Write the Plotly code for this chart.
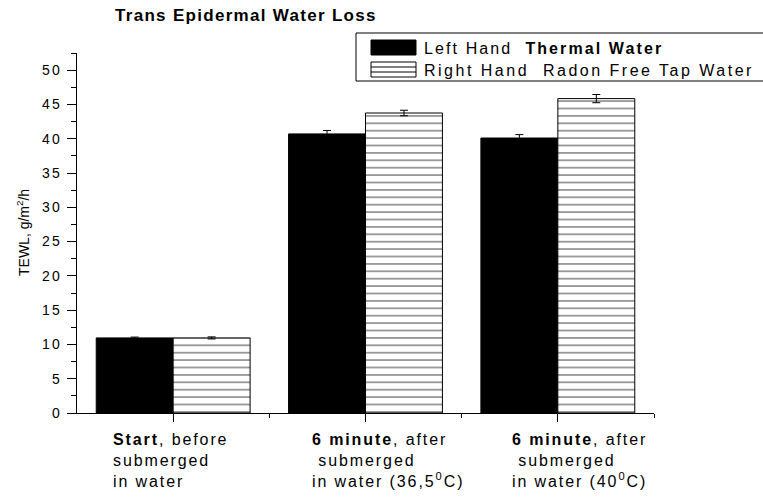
import plotly.graph_objects as go

# ---- data ----
categories = [0.5, 1.5, 2.5]
category_labels = [
    "<b>Start</b>, before<br>submerged<br>in water",
    "<b>6 minute</b>, after<br>&nbsp;submerged<br>in water (36,5<sup>0</sup>C)",
    "<b>6 minute</b>, after<br>&nbsp;submerged<br>in water (40<sup>0</sup>C)",
]
left_values = [10.95, 40.7, 40.1]
left_errors = [0.12, 0.5, 0.5]
right_values = [10.95, 43.75, 45.85]
right_errors = [0.15, 0.4, 0.6]
series_names = ["Left Hand&nbsp; <b>Thermal Water</b>", "Right Hand&nbsp; Radon Free Tap Water"]
y_ticks = [0, 5, 10, 15, 20, 25, 30, 35, 40, 45, 50]
y_tick_labels = [str(v) for v in y_ticks]
title_text = "<b>Trans Epidermal Water Loss</b>"
y_title = "TEWL, g/m<sup>2</sup>/h"

FONT = "Liberation Sans, Arial, sans-serif"
W, H = 763, 497
L, R, T, B = 77, 654, 53, 413  # plot area in pixels


def sp(text, ls):
    return f'<span style="letter-spacing:{ls}px">{text}</span>'


def px(xp):
    return (xp - L) / (R - L)


def py(yp):
    return (B - yp) / (B - T)


fig = go.Figure()
fig.add_trace(go.Bar(
    x=categories, y=left_values, width=0.4, offset=-0.4,
    marker=dict(color="black", line=dict(color="black", width=1)),
    error_y=dict(type="data", array=left_errors, color="black", thickness=1, width=4),
    showlegend=False,
))
fig.add_trace(go.Bar(
    x=categories, y=right_values, width=0.4, offset=0.0,
    marker=dict(color="white", line=dict(color="black", width=1),
                pattern=dict(shape="-", fgcolor="black", bgcolor="white", size=7.4, solidity=0.2)),
    error_y=dict(type="data", array=right_errors, color="black", thickness=1, width=4),
    showlegend=False,
))

shapes = []
annotations = []

# legend box
shapes.append(dict(type="rect", xref="paper", yref="paper", x0=px(356), x1=px(772), y0=py(33), y1=py(81),
                   line=dict(color="black", width=1), fillcolor="white", layer="above"))
shapes.append(dict(type="rect", xref="paper", yref="paper", x0=px(371), x1=px(416), y0=py(40), y1=py(55),
                   line=dict(color="black", width=1), fillcolor="black", layer="above"))
shapes.append(dict(type="rect", xref="paper", yref="paper", x0=px(371), x1=px(416), y0=py(62), y1=py(77),
                   line=dict(color="black", width=1), fillcolor="white", layer="above"))
for yy in (67, 72):
    shapes.append(dict(type="line", xref="paper", yref="paper", x0=px(371), x1=px(416), y0=py(yy), y1=py(yy),
                       line=dict(color="black", width=1), layer="above"))
for name, yc, ls in zip(series_names, (48, 70), (2.1, 2.5)):
    annotations.append(dict(text=sp(name, ls), xref="paper", yref="paper", x=px(422), y=py(yc),
                            xanchor="left", yanchor="middle", showarrow=False,
                            font=dict(family=FONT, size=16, color="black")))

# category labels
shifts = [-62, -56, -48]
for c, lab, s in zip(categories, category_labels, shifts):
    annotations.append(dict(text=sp(lab, 1.9), xref="x", yref="paper", x=c, y=py(429), xshift=s,
                            xanchor="left", yanchor="top", align="left", showarrow=False,
                            font=dict(family=FONT, size=16, color="black")))

# y-axis title
annotations.append(dict(text=y_title, xref="paper", yref="paper", x=0, xshift=-54, y=0.5,
                        textangle=-90, xanchor="center", yanchor="middle", showarrow=False,
                        font=dict(family=FONT, size=14, color="black")))

fig.update_layout(
    width=W, height=H,
    margin=dict(l=L, r=W - R, t=T, b=H - B, pad=0),
    paper_bgcolor="white", plot_bgcolor="white",
    barmode="overlay",
    font=dict(family=FONT, color="black"),
    title=dict(text=sp(title_text, 1.3), x=115 / W, xanchor="left", xref="container",
               y=1 - 15 / H, yanchor="middle", yref="container",
               font=dict(family=FONT, size=17, color="black")),
    xaxis=dict(range=[0, 3], showline=True, linecolor="black", linewidth=1, showgrid=False, zeroline=False,
               tickmode="array", tickvals=categories, showticklabels=False,
               ticks="outside", ticklen=8, tickcolor="black", tickwidth=1,
               minor=dict(tickmode="array", tickvals=[1, 2, 3], ticks="outside", ticklen=4,
                          tickcolor="black", tickwidth=1, showgrid=False)),
    yaxis=dict(range=[0, 52.5], showline=True, linecolor="black", linewidth=1, showgrid=False, zeroline=False,
               tickmode="array", tickvals=y_ticks, ticktext=[sp(t, 2.3) for t in y_tick_labels],
               ticks="outside", ticklen=9, tickcolor="black", tickwidth=1,
               ticklabelstandoff=2,
               tickfont=dict(family=FONT, size=14, color="black"),
               minor=dict(tickmode="array", tickvals=[2.5 + 5 * i for i in range(11)], ticks="outside",
                          ticklen=5, tickcolor="black", tickwidth=1, showgrid=False)),
    shapes=shapes,
    annotations=annotations,
)

fig.write_html("out.html", config={"displayModeBar": False},
               post_script="document.body.style.margin='0';document.body.style.overflow='hidden';")
